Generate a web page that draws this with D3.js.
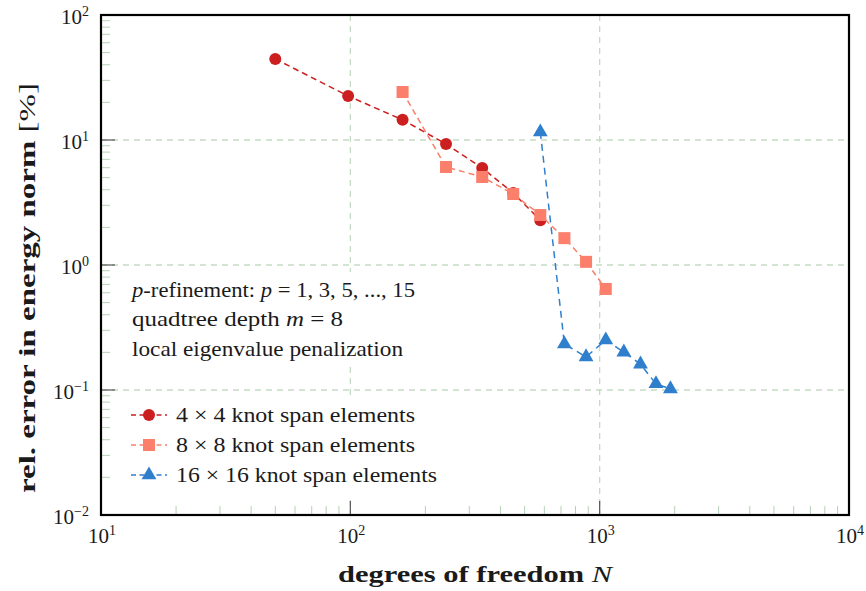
<!DOCTYPE html>
<html><head><meta charset="utf-8">
<script src="https://cdn.jsdelivr.net/npm/d3@7"></script>
<style>
html,body{margin:0;padding:0;background:#fff;}
svg text, svg tspan{font-family:"Liberation Serif","DejaVu Serif",serif !important;fill:#1a1a1a;}
</style></head>
<body>
<svg id="chart" width="866" height="591" font-family="Liberation Serif, serif"></svg>
<script>
// ---- data ----
const xTickValues = [10, 100, 1000, 10000];
const xTickExps = ["1", "2", "3", "4"];
const yTickValues = [0.01, 0.1, 1, 10, 100];
const yTickExps = ["\u22122", "\u22121", "0", "1", "2"];

const dof4 = [50, 98, 162, 242, 338, 450, 578];
const err4 = [44.5, 22.5, 14.5, 9.3, 5.97, 3.77, 2.28];
const dof8 = [162, 242, 338, 450, 578, 722, 882, 1058];
const err8 = [24.2, 6.08, 5.06, 3.70, 2.51, 1.64, 1.06, 0.643];
const dof16 = [578, 722, 882, 1058, 1250, 1458, 1682, 1922];
const err16 = [11.6, 0.233, 0.184, 0.251, 0.201, 0.161, 0.112, 0.102];

const seriesNames = ["4 \u00d7 4 knot span elements", "8 \u00d7 8 knot span elements", "16 \u00d7 16 knot span elements"];
const seriesColors = ["#cc1f1f", "#fb7f6a", "#2f7fcd"];
const seriesShapes = ["circle", "square", "triangle"];
const annotation = ["p-refinement", "quadtree depth", "local eigenvalue penalization"];

// ---- layout ----
const svg = d3.select("#chart");
const L = 101, R = 849, T = 15, B = 515;
const x = d3.scaleLog().domain([10, 10000]).range([L, R]);
const y = d3.scaleLog().domain([0.01, 100]).range([B, T]);

const gridColor = "#c5dbc5";
const minorColor = "#b5d2b5";

// grid lines (major)
const grid = svg.append("g");
grid.selectAll("line.gx").data(xTickValues.slice(1)).join("line")
  .attr("x1", d => x(d)).attr("x2", d => x(d)).attr("y1", T).attr("y2", B)
  .attr("stroke", gridColor).attr("stroke-width", 1.3).attr("stroke-dasharray", "6,5");
grid.selectAll("line.gy").data(yTickValues.slice(1, -1)).join("line")
  .attr("x1", L).attr("x2", R).attr("y1", d => y(d)).attr("y2", d => y(d))
  .attr("stroke", gridColor).attr("stroke-width", 1.3).attr("stroke-dasharray", "6,5");

// minor ticks
const minorX = [], minorY = [];
for (let e = 1; e < 4; e++) for (let m = 2; m <= 9; m++) minorX.push(m * Math.pow(10, e));
for (let e = -2; e < 2; e++) for (let m = 2; m <= 9; m++) minorY.push(m * Math.pow(10, e));
svg.append("g").selectAll("line").data(minorX).join("line")
  .attr("x1", d => x(d)).attr("x2", d => x(d)).attr("y1", B).attr("y2", B - 9)
  .attr("stroke", minorColor).attr("stroke-width", 1);
svg.append("g").selectAll("line").data(minorY).join("line")
  .attr("y1", d => y(d)).attr("y2", d => y(d)).attr("x1", L).attr("x2", L + 9)
  .attr("stroke", minorColor).attr("stroke-width", 1);
// major ticks
svg.append("g").selectAll("line").data(xTickValues.slice(1, -1)).join("line")
  .attr("x1", d => x(d)).attr("x2", d => x(d)).attr("y1", B).attr("y2", B - 14)
  .attr("stroke", "#555").attr("stroke-width", 1.2);
svg.append("g").selectAll("line").data(yTickValues.slice(1, -1)).join("line")
  .attr("y1", d => y(d)).attr("y2", d => y(d)).attr("x1", L).attr("x2", L + 14)
  .attr("stroke", "#555").attr("stroke-width", 1.2);

// white boxes behind annotation and legend
svg.append("rect").attr("x", 118).attr("y", 272).attr("width", 320).attr("height", 90).attr("fill", "#fff");
svg.append("rect").attr("x", 118).attr("y", 398).attr("width", 330).attr("height", 102).attr("fill", "#fff");

// frame
svg.append("rect").attr("x", L).attr("y", T).attr("width", R - L).attr("height", B - T)
  .attr("fill", "none").attr("stroke", "#000").attr("stroke-width", 2.2);

// tick labels
function tickLabel(g, base, exp) {
  g.append("tspan").text(base);
  g.append("tspan").attr("dy", -8).attr("font-size", 14).text(exp);
}
svg.append("g").selectAll("text").data(xTickValues).join("text")
  .attr("x", d => x(d) + 1).attr("y", 543).attr("text-anchor", "middle").attr("font-size", 21)
  .each(function(d, i) { tickLabel(d3.select(this), "10", xTickExps[i]); });
svg.append("g").selectAll("text").data(yTickValues).join("text")
  .attr("x", 89).attr("y", d => y(d) + 9).attr("text-anchor", "end").attr("font-size", 21)
  .each(function(d, i) { tickLabel(d3.select(this), "10", yTickExps[i]); });

function fit(sel, w) {
  sel.attr("textLength", w).attr("lengthAdjust", "spacingAndGlyphs");
}

// axis titles
const xt = svg.append("text").attr("x", 338).attr("y", 582).attr("font-size", 23);
xt.append("tspan").attr("font-weight", "bold").text("degrees of freedom ");
xt.append("tspan").attr("font-style", "italic").text("N");
fit(xt, 274);

const yt = svg.append("text").attr("transform", "translate(35,493) rotate(-90)").attr("font-size", 23);
yt.append("tspan").attr("font-weight", "bold").text("rel. error in energy norm ");
yt.append("tspan").text("[%]");
fit(yt, 410);

// series
const allSeries = [
  dof4.map((d, i) => [d, err4[i]]),
  dof8.map((d, i) => [d, err8[i]]),
  dof16.map((d, i) => [d, err16[i]])
];
const line = d3.line().x(d => x(d[0])).y(d => y(d[1]));
const dashes = ["6,4", "6,4", "7,5"];
function marker(g, shape, cx, cy, color) {
  if (shape === "circle") g.append("circle").attr("cx", cx).attr("cy", cy).attr("r", 6).attr("fill", color);
  else if (shape === "square") g.append("rect").attr("x", cx - 6).attr("y", cy - 6).attr("width", 12).attr("height", 12).attr("fill", color);
  else g.append("path").attr("d", d3.symbol(d3.symbolTriangle, 95)()).attr("transform", `translate(${cx},${cy})`).attr("fill", color);
}
allSeries.forEach((data, i) => {
  const g = svg.append("g");
  g.append("path").attr("d", line(data)).attr("fill", "none").attr("stroke", seriesColors[i])
    .attr("stroke-width", 1.5).attr("stroke-dasharray", dashes[i]);
  data.forEach(d => marker(g, seriesShapes[i], x(d[0]), y(d[1]), seriesColors[i]));
});

// annotation text
const a1 = svg.append("text").attr("x", 132).attr("y", 297).attr("font-size", 22);
a1.append("tspan").attr("font-style", "italic").text("p");
a1.append("tspan").text("-refinement: ");
a1.append("tspan").attr("font-style", "italic").text("p");
a1.append("tspan").text(" = 1, 3, 5, ..., 15");
fit(a1, 283);
const a2 = svg.append("text").attr("x", 132).attr("y", 326).attr("font-size", 22);
a2.append("tspan").text("quadtree depth ");
a2.append("tspan").attr("font-style", "italic").text("m");
a2.append("tspan").text(" = 8");
fit(a2, 211);
const a3 = svg.append("text").attr("x", 132).attr("y", 356).attr("font-size", 22).text(annotation[2]);
fit(a3, 271);

// legend
const legW = [239, 239, 261];
seriesNames.forEach((name, i) => {
  const cy = 415 + i * 30;
  const g = svg.append("g");
  g.append("line").attr("x1", 131).attr("x2", 167).attr("y1", cy).attr("y2", cy)
    .attr("stroke", seriesColors[i]).attr("stroke-width", 1.5).attr("stroke-dasharray", "5,3.5");
  marker(g, seriesShapes[i], 149, cy, seriesColors[i]);
  const t = g.append("text").attr("x", 176).attr("y", cy + 7).attr("font-size", 22).text(name);
  fit(t, legW[i]);
});
</script>
</body></html>
